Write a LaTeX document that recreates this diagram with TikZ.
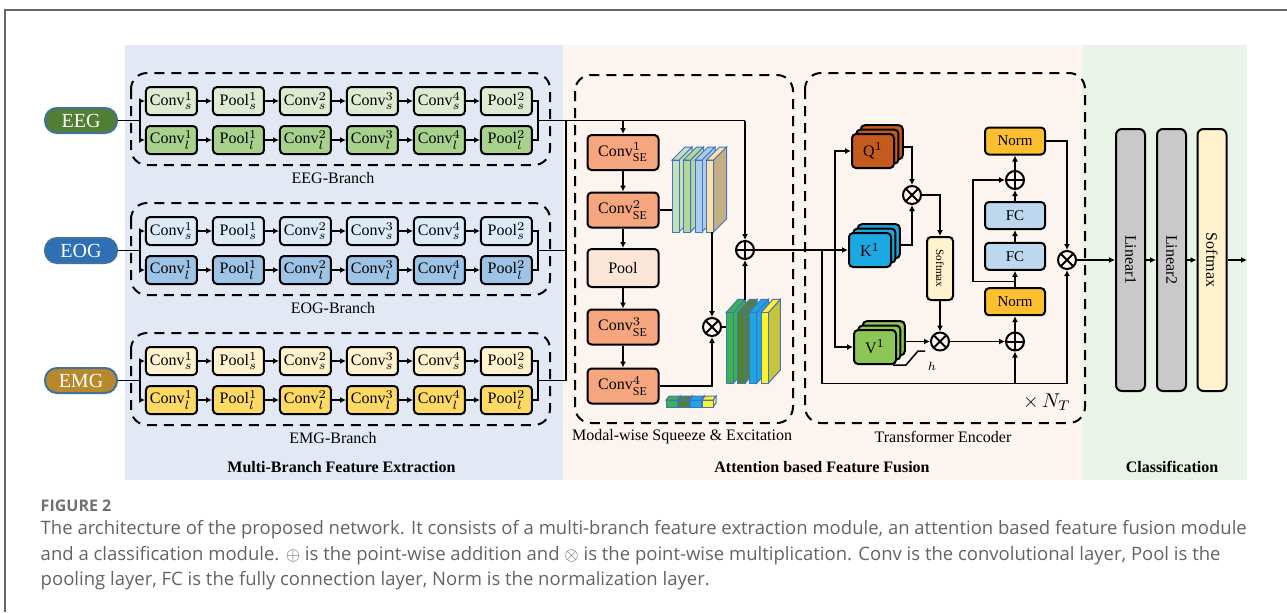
\documentclass[tikz,border=0pt]{standalone}
\usepackage{fontspec}
\setmainfont{Liberation Serif}
\newfontfamily\capfont{Open Sans}
\usetikzlibrary{arrows.meta,matrix,shadows,positioning}

\definecolor{panelblue}{HTML}{E3E9F4}
\definecolor{panelpeach}{HTML}{FCF5EF}
\definecolor{panelgreen}{HTML}{EAF3E8}
\definecolor{eegtop}{HTML}{DDEBD3}
\definecolor{eegbot}{HTML}{A9D18E}
\definecolor{eogtop}{HTML}{DDEBF7}
\definecolor{eogbot}{HTML}{9DC3E6}
\definecolor{emgtop}{HTML}{FFF2CC}
\definecolor{emgbot}{HTML}{FFD966}
\definecolor{eegsig}{HTML}{507E32}
\definecolor{eogsig}{HTML}{2E6FB5}
\definecolor{emgsig}{HTML}{B8892C}
\definecolor{sigline}{HTML}{41719C}
\definecolor{seconv}{HTML}{F5A67E}
\definecolor{sepool}{HTML}{FBE5D6}
\definecolor{slabline}{HTML}{4472C4}
\definecolor{fmA}{HTML}{C5E0B4}
\definecolor{fmB}{HTML}{B2D69B}
\definecolor{fmC}{HTML}{A9CDEB}
\definecolor{fmD}{HTML}{FFE0A3}
\definecolor{fmDs}{HTML}{C4AF84}
\definecolor{fwA}{HTML}{3BB44A}
\definecolor{fwB}{HTML}{548235}
\definecolor{fwC}{HTML}{1EA5E3}
\definecolor{fwD}{HTML}{FFF22A}
\definecolor{fwDs}{HTML}{C9C53A}
\definecolor{qcol}{HTML}{C55A1E}
\definecolor{kcol}{HTML}{1CA9E2}
\definecolor{vcol}{HTML}{8CC656}
\definecolor{normcol}{HTML}{FDBF2D}
\definecolor{fccol}{HTML}{BDD7EE}
\definecolor{smxcol}{HTML}{FFF2CC}
\definecolor{lincol}{HTML}{C9C9C9}
\definecolor{capgray}{HTML}{636363}
\definecolor{fignogray}{HTML}{707070}
\definecolor{framegray}{HTML}{666666}

\newcommand{\fsz}[1]{\fontsize{#1}{#1}\selectfont}

\tikzset{
  blk/.style={draw, line width=1pt, rounded corners=2pt, inner sep=0.3pt,
              minimum width=25.5pt, minimum height=14pt, font=\fsz{8}},
  branch/.style 2 args={matrix of nodes, inner sep=0pt, column sep=7pt, row sep=4.5pt,
              nodes={blk}, row 1/.style={nodes={fill=#1}}, row 2/.style={nodes={fill=#2}}},
  sig/.style={draw=sigline, line width=1pt, fill=#1, text=white, rounded corners=6pt,
              minimum width=36pt, minimum height=12.5pt, inner sep=0pt, font=\fsz{10}},
  grp/.style={draw, line width=1pt, dash pattern=on 5pt off 3.5pt, rounded corners=8pt},
  lbl/.style={inner sep=0pt, font=\fsz{8}},
  ttl/.style={inner sep=0pt, font=\fsz{8}\bfseries},
  arr/.style={-{Latex[length=3pt,width=3pt]}},
  slab/.style={draw=slabline, line width=0.5pt},
  seblk/.style={blk, fill=seconv, minimum width=35.5pt, minimum height=17.5pt, font=\fsz{8}},
  op/.style={circle, draw, line width=1pt, minimum size=9pt, inner sep=0pt},
  add/.style={op, path picture={\draw[line width=1pt]
      (path picture bounding box.north) -- (path picture bounding box.south)
      (path picture bounding box.west) -- (path picture bounding box.east);}},
  mul/.style={op, path picture={\draw[line width=1pt]
      (path picture bounding box.north west) -- (path picture bounding box.south east)
      (path picture bounding box.north east) -- (path picture bounding box.south west);}},
  qkv/.style={blk, fill=#1, minimum width=21pt, minimum height=17pt, font=\fsz{8},
              double copy shadow={shadow xshift=2.2pt, shadow yshift=2.2pt}},
  ffn/.style={blk, fill=#1, minimum width=30pt, minimum height=13.5pt, font=\fsz{7.5}},
  cls/.style={blk, fill=#1, rotate=-90, rounded corners=3pt,
              minimum width=131pt, minimum height=14.5pt, font=\fsz{8}},
  captxt/.style={anchor=west, inner sep=0pt, text=capgray, font=\capfont\fsz{9.25}},
}

\begin{document}
\begin{tikzpicture}[x=0.5pt, y=-0.5pt, line width=0.75pt]
\useasboundingbox (0,0) rectangle (1287,612);

% page frame and panels
\draw[framegray, line width=1pt] (5,612) -- (5,10) -- (1287,10);
\fill[panelblue] (125,45) rectangle (563,480);
\fill[panelpeach] (563,45) rectangle (1082,480);
\fill[panelgreen] (1082,45) rectangle (1247,480);

% branches
\matrix (eeg) [branch={eegtop}{eegbot}] at (339,120.5) {
Conv$^1_s$ & Pool$^1_s$ & Conv$^2_s$ & Conv$^3_s$ & Conv$^4_s$ & Pool$^2_s$ \\
Conv$^1_l$ & Pool$^1_l$ & Conv$^2_l$ & Conv$^3_l$ & Conv$^4_l$ & Pool$^2_l$ \\
};
\matrix (eog) [branch={eogtop}{eogbot}] at (339,250.5) {
Conv$^1_s$ & Pool$^1_s$ & Conv$^2_s$ & Conv$^3_s$ & Conv$^4_s$ & Pool$^2_s$ \\
Conv$^1_l$ & Pool$^1_l$ & Conv$^2_l$ & Conv$^3_l$ & Conv$^4_l$ & Pool$^2_l$ \\
};
\matrix (emg) [branch={emgtop}{emgbot}] at (339,380.5) {
Conv$^1_s$ & Pool$^1_s$ & Conv$^2_s$ & Conv$^3_s$ & Conv$^4_s$ & Pool$^2_s$ \\
Conv$^1_l$ & Pool$^1_l$ & Conv$^2_l$ & Conv$^3_l$ & Conv$^4_l$ & Pool$^2_l$ \\
};

\node[sig=eegsig] (eeg-in) at (81,120.5) {EEG};
\node[sig=eogsig] (eog-in) at (81,250.5) {EOG};
\node[sig=emgsig] (emg-in) at (81,380.5) {EMG};

\foreach \b/\y/\t in {eeg/120.5/EEG, eog/250.5/EOG, emg/380.5/EMG} {
  \draw[grp] (131,\y-47.5) rectangle (550,\y+44.5);
  \node[lbl] (\b-label) at (333,\y+57.5) {\t-Branch};
  \foreach \r in {1,2}
    \foreach \c [count=\n from 2] in {1,...,5}
      \draw[arr] (\b-\r-\c) -- (\b-\r-\n);
  \coordinate (\b-split) at (140,\y);
  \coordinate (\b-join) at (538,\y);
  \draw (\b-in) -- (\b-split);
  \draw[arr] (\b-split) |- (\b-1-1);
  \draw[arr] (\b-split) |- (\b-2-1);
  \draw (\b-1-6) -| (\b-join) |- (\b-2-6);
}

% modal-wise squeeze & excitation
\draw[grp] (575,75) rectangle (793,423);
\node[seblk] (conv1) at (623,152.5) {Conv$^1_{\mathrm{SE}}$};
\node[seblk] (conv2) at (623,210) {Conv$^2_{\mathrm{SE}}$};
\node[seblk, fill=sepool, minimum height=19pt] (pool) at (623,268) {Pool};
\node[seblk] (conv3) at (623,327) {Conv$^3_{\mathrm{SE}}$};
\node[seblk] (conv4) at (623,386) {Conv$^4_{\mathrm{SE}}$};
\draw[arr] (conv1) -- (conv2);
\draw[arr] (conv2) -- (pool);
\draw[arr] (pool) -- (conv3);
\draw[arr] (conv3) -- (conv4);

\foreach \x/\c/\s in {672/fmA/fmA, 683.5/fmB/fmB, 695/fmC/fmC, 706.5/fmD/fmDs} {
  \filldraw[slab, fill=\s] (\x+7,160) -- (\x+20,147) -- (\x+20,219) -- (\x+7,232) -- cycle;
  \filldraw[slab, fill=\c] (\x,160) -- (\x+13,147) -- (\x+20,147) -- (\x+7,160) -- cycle;
  \filldraw[slab, fill=\c] (\x,160) rectangle (\x+7,232);
}
\foreach \x/\c/\s in {726/fwA/fwA, 737.7/fwB/fwB, 749.3/fwC/fwC, 761/fwD/fwDs} {
  \filldraw[slab, fill=\s] (\x+7.3,312.7) -- (\x+19.3,299.3) -- (\x+19.3,370) -- (\x+7.3,383.3) -- cycle;
  \filldraw[slab, fill=\c] (\x,312.7) -- (\x+12,299.3) -- (\x+19.3,299.3) -- (\x+7.3,312.7) -- cycle;
  \filldraw[slab, fill=\c] (\x,312.7) rectangle (\x+7.3,383.3);
}
\foreach \x/\c in {666/fwA, 678/fwB, 690/fwC, 702/fwD} {
  \filldraw[slab, fill=\c] (\x+11,400) -- (\x+14,396) -- (\x+14,403) -- (\x+11,407) -- cycle;
  \filldraw[slab, fill=\c] (\x,400) -- (\x+3,396) -- (\x+14,396) -- (\x+11,400) -- cycle;
  \filldraw[slab, fill=\c] (\x,400) rectangle (\x+11,407);
}

\node[mul] (mulSE) at (712,327) {};
\node[add] (addSE) at (745,250) {};
\coordinate (fm1w) at (672,210);
\coordinate (fm1s) at (712,232);
\coordinate (fm2w) at (726,327);
\coordinate (fm2n) at (745,300);
\draw (conv2) -- (fm1w);
\draw[arr] (fm1s) -- (mulSE);
\draw[arr] (conv4) -| (mulSE);
\draw (mulSE) -- (fm2w);
\draw[arr] (fm2n) -- (addSE);

% branch outputs into the fusion module
\coordinate (bus) at (566,120.5);
\coordinate (seTop) at (745,120.5);
\draw (eeg-join) -- (seTop);
\draw[arr] (seTop) -- (addSE);
\draw[arr] (conv1 |- seTop) -- (conv1);
\draw (eog-join) -- (eog-join -| bus);
\draw (emg-join) -| (bus);

\node[lbl] (seLabel) at (682,437) {Modal-wise Squeeze \& Excitation};

% transformer encoder
\draw[grp] (805,73) rectangle (1085,423);
\node[qkv=qcol] (Q) at (873,151) {Q$^1$};
\node[qkv=kcol] (K) at (870,250) {K$^1$};
\node[qkv=vcol] (V) at (875,347) {V$^1$};
\node[mul] (mulQK) at (912,195) {};
\node[blk, fill=smxcol, rotate=-90, minimum width=31.5pt, minimum height=13pt, font=\fsz{5.6}] (smx) at (940,268.5) {Softmax};
\node[mul] (mulAV) at (940,341.5) {};
\node[add] (addLow) at (1015,341.5) {};
\node[ffn=normcol] (normLow) at (1015,301.7) {Norm};
\node[ffn=fccol] (fcLow) at (1015,256.3) {FC};
\node[ffn=fccol] (fcUp) at (1015,215.5) {FC};
\node[add] (addUp) at (1015,180) {};
\node[ffn=normcol] (normUp) at (1015,141) {Norm};
\node[mul] (mulOut) at (1067,260) {};

\draw[arr] (addSE) -- (K);
\coordinate (inQ) at (835,250);
\draw[arr] (inQ) |- (Q);
\draw[arr] (inQ) |- (V);
\coordinate (res1) at (822,250);
\coordinate (botR) at (1067,383.3);
\draw[arr] (res1) |- (botR) -- (mulOut);
\draw[arr] (addLow |- botR) -- (addLow);

\draw[arr] ([shift={(4.4pt,2pt)}]Q.east) -| (mulQK);
\draw[arr] ([shift={(4.4pt,2.5pt)}]K.east) -| (mulQK);
\draw[arr] (mulQK) -| (smx);
\draw[arr] (smx) -- (mulAV);
\draw[arr] ([shift={(4.4pt,2.75pt)}]V.east) -- (mulAV);
\draw[arr] (mulAV) -- (addLow);
\draw[arr] (addLow) -- (normLow);
\draw[arr] (normLow) -- (fcLow);
\draw[arr] (fcLow) -- (fcUp);
\draw[arr] (fcUp) -- (addUp);
\draw[arr] (addUp) -- (normUp);
\coordinate (resTap) at (1015,281.7);
\coordinate (resL) at (973,281.7);
\draw[arr] (resTap) -- (resL) |- (addUp);
\draw[arr] (normUp) -| (mulOut);

\coordinate (hA) at (893,365);
\coordinate (hB) at (906,365);
\coordinate (hC) at (918,351);
\coordinate (hD) at (925,351);
\draw (hA) -- (hB) -- (hC) -- (hD);
\node[inner sep=0pt, font=\fsz{6}] (hLabel) at (932,366) {$h$};
\node[inner sep=0pt, font=\fsz{10}] (nT) at (1047,402) {$\times\,N_T$};
\node[lbl] (teLabel) at (943,437) {Transformer Encoder};

% classification
\node[cls=lincol] (lin1) at (1130.5,260) {Linear1};
\node[cls=lincol] (lin2) at (1171.5,260) {Linear2};
\node[cls=smxcol] (smxOut) at (1212,260) {Softmax};
\coordinate (out) at (1247,260);
\draw[arr] (mulOut) -- (lin1);
\draw[arr] (lin1) -- (lin2);
\draw[arr] (lin2) -- (smxOut);
\draw[arr] (smxOut) -- (out);

% panel titles
\node[ttl] (mbTitle) at (341.5,467) {Multi-Branch Feature Extraction};
\node[ttl] (afTitle) at (822,467) {Attention based Feature Fusion};
\node[ttl] (clTitle) at (1172,467) {Classification};

% caption
\node[captxt, font=\capfont\bfseries\fsz{8}, text=fignogray] (figNo) at (40,506) {FIGURE 2};
\node[captxt] (cap1) at (40,530) {The architecture of the proposed network. It consists of a multi-branch feature extraction module, an attention based feature fusion module};
\node[captxt] (cap2) at (40,556) {and a classification module. $\oplus$ is the point-wise addition and $\otimes$ is the point-wise multiplication. Conv is the convolutional layer, Pool is the};
\node[captxt] (cap3) at (40,581) {pooling layer, FC is the fully connection layer, Norm is the normalization layer.};
\end{tikzpicture}
\end{document}
